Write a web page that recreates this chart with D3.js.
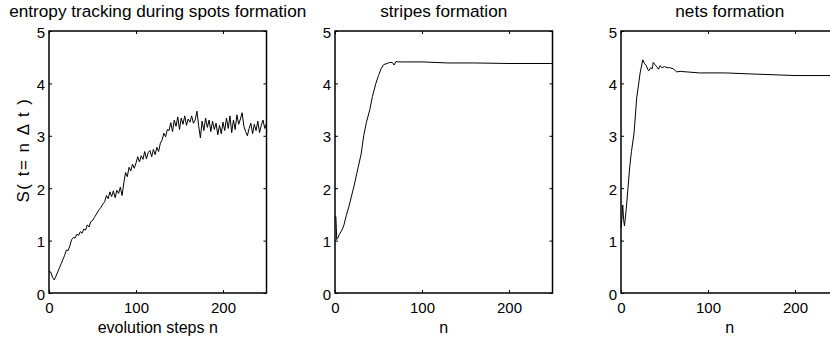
<!DOCTYPE html>
<html>
<head>
<meta charset="utf-8">
<script src="https://cdn.jsdelivr.net/npm/d3@7"></script>
<style>
  body { margin: 0; background: white; }
  svg { display: block; }
  text { font-family: "Liberation Sans", Arial, Helvetica, sans-serif; fill: black; }
</style>
</head>
<body>
<div id="chart"></div>
<script>
const spotsSteps = d3.range(0, 251, 2);
const spotsEntropy = [
  0.42, 0.40, 0.30, 0.25, 0.32, 0.40, 0.48, 0.56, 0.64, 0.72,
  0.82, 0.81, 0.90, 1.02, 1.06, 1.05, 1.12, 1.10, 1.17, 1.14,
  1.22, 1.20, 1.30, 1.26, 1.36, 1.38, 1.44, 1.49, 1.55, 1.60,
  1.64, 1.70, 1.74, 1.86, 1.80, 1.93, 1.84, 1.95, 1.82, 1.96,
  1.90, 2.02, 1.86, 2.10, 2.30, 2.22, 2.40, 2.33, 2.46, 2.38,
  2.48, 2.60, 2.50, 2.62, 2.55, 2.70, 2.56, 2.68, 2.72, 2.60,
  2.74, 2.64, 2.78, 2.70, 2.86, 2.92, 3.05, 2.98, 3.12, 3.10,
  3.25, 3.08, 3.30, 3.18, 3.36, 3.12, 3.34, 3.22, 3.38, 3.20,
  3.32, 3.26, 3.38, 3.24, 3.30, 3.47, 3.20, 2.96, 3.28, 3.10,
  3.34, 3.16, 3.30, 3.08, 3.28, 3.12, 3.24, 3.02, 3.20, 3.04,
  3.26, 3.10, 3.34, 3.14, 3.38, 3.06, 3.30, 3.12, 3.40, 3.22,
  3.32, 3.44, 3.18, 3.08, 3.00, 3.14, 3.24, 3.04, 3.22, 3.10,
  3.28, 3.06, 3.20, 3.30, 3.14, 3.24
];

const stripesSteps = [0, 1, 2, 3, 5, 8, 10, 13, 16, 19, 22, 25, 28, 30, 33, 36, 40, 43, 47, 50, 53, 56, 60, 63, 66, 68, 70, 72, 80, 100, 130, 160, 200, 250];
const stripesEntropy = [1.47, 1.46, 1.02, 1.04, 1.12, 1.20, 1.28, 1.48, 1.65, 1.85, 2.05, 2.28, 2.50, 2.65, 3.00, 3.25, 3.50, 3.75, 4.00, 4.15, 4.28, 4.36, 4.38, 4.40, 4.40, 4.35, 4.42, 4.41, 4.41, 4.41, 4.39, 4.39, 4.38, 4.38];

const netsSteps = [0, 1, 2, 3, 4, 6, 8, 10, 12, 15, 18, 20, 22, 25, 27, 29, 31, 32, 34, 36, 37, 39, 41, 43, 45, 47, 50, 53, 56, 60, 64, 68, 75, 90, 120, 150, 200, 250];
const netsEntropy = [1.25, 1.40, 1.68, 1.40, 1.28, 1.60, 2.00, 2.40, 2.70, 3.05, 3.72, 3.95, 4.20, 4.45, 4.38, 4.34, 4.26, 4.24, 4.30, 4.28, 4.40, 4.36, 4.32, 4.27, 4.34, 4.30, 4.32, 4.30, 4.30, 4.28, 4.22, 4.23, 4.22, 4.20, 4.20, 4.18, 4.15, 4.15];

const titles = ["entropy tracking during spots formation", "stripes formation", "nets formation"];
const xLabels = ["evolution steps n", "n", "n"];
const yLabel = "S( t= n \u0394 t )";
const xTicks = [0, 100, 200];
const yTicks = [0, 1, 2, 3, 4, 5];

// Figure layout
const width = 830, height = 343;
const plotTop = 31, plotBottom = 293, plotWidth = 217.5;
const plotLefts = [49, 335, 621];

const svg = d3.select("#chart")
  .append("svg")
  .attr("width", width)
  .attr("height", height)
  .style("background", "white");

const panels = [
  { steps: spotsSteps, values: spotsEntropy },
  { steps: stripesSteps, values: stripesEntropy },
  { steps: netsSteps, values: netsEntropy }
];

panels.forEach(function(p, i) {
  const left = plotLefts[i];
  const x = d3.scaleLinear().domain([0, 250]).range([left, left + plotWidth]);
  const y = d3.scaleLinear().domain([0, 5]).range([plotBottom, plotTop]);
  const g = svg.append("g");

  // line first so the frame sits on top
  const line = d3.line()
    .x(d => x(d[0]))
    .y(d => y(d[1]));

  g.append("path")
    .datum(p.steps.map((s, k) => [s, p.values[k]]))
    .attr("d", line)
    .attr("fill", "none")
    .attr("stroke", "black")
    .attr("stroke-width", 1)
    .attr("stroke-linejoin", "round");

  // inward ticks on all four sides, matlab style
  g.append("g")
    .attr("transform", `translate(0,${plotBottom})`)
    .call(d3.axisBottom(x).tickValues(xTicks).tickSizeInner(-3).tickSizeOuter(0).tickPadding(9));
  g.append("g")
    .attr("transform", `translate(0,${plotTop})`)
    .call(d3.axisTop(x).tickValues(xTicks).tickSizeInner(-3).tickSizeOuter(0).tickFormat(""));
  const leftAxis = g.append("g")
    .attr("transform", `translate(${left},0)`)
    .call(d3.axisLeft(y).tickValues(yTicks).tickFormat(d3.format("d")).tickSizeInner(-3).tickSizeOuter(0).tickPadding(4));
  g.append("g")
    .attr("transform", `translate(${left + plotWidth},0)`)
    .call(d3.axisRight(y).tickValues(yTicks).tickSizeInner(-3).tickSizeOuter(0).tickFormat(""));

  g.selectAll(".domain").attr("stroke", "none");
  g.selectAll(".tick line").attr("stroke", "black");
  g.selectAll(".tick text").style("font-size", "15px").attr("fill", "black");
  leftAxis.selectAll(".tick text").attr("dy", "0.4em");

  // plot frame
  g.append("rect")
    .attr("x", left)
    .attr("y", plotTop)
    .attr("width", plotWidth)
    .attr("height", plotBottom - plotTop)
    .attr("fill", "none")
    .attr("stroke", "black")
    .attr("stroke-width", 1.5);

  g.append("text")
    .attr("x", left + plotWidth / 2)
    .attr("y", 17)
    .attr("text-anchor", "middle")
    .style("font-size", "17.2px")
    .text(titles[i]);

  g.append("text")
    .attr("x", left + plotWidth / 2)
    .attr("y", 333)
    .attr("text-anchor", "middle")
    .style("font-size", "16px")
    .text(xLabels[i]);
});

// y label only on the first panel
svg.append("text")
  .attr("transform", "translate(29,150) rotate(-90)")
  .attr("text-anchor", "middle")
  .style("font-size", "17px")
  .style("letter-spacing", "1.5px")
  .text(yLabel);
</script>
</body>
</html>
